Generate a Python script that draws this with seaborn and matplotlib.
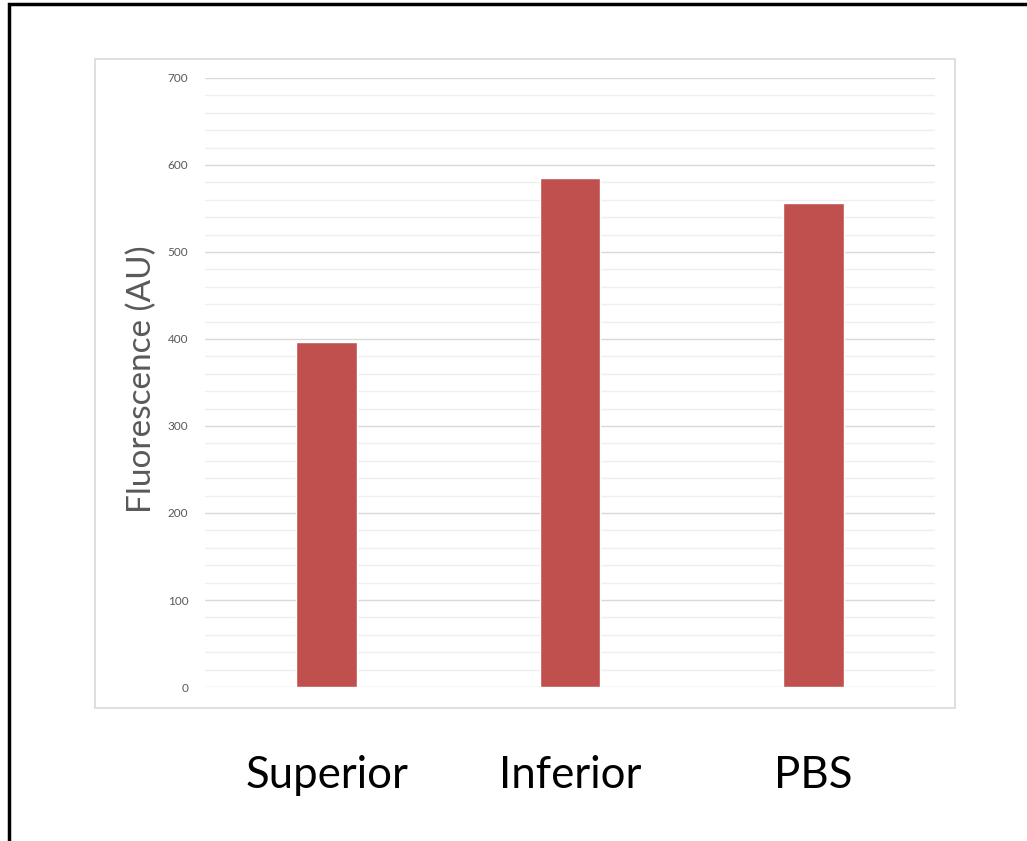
import matplotlib
matplotlib.use("Agg")
import matplotlib.pyplot as plt
from matplotlib.patches import Rectangle
from matplotlib.ticker import MultipleLocator
import pandas as pd
import seaborn as sns

# Data
groups = ["Superior", "Inferior", "PBS"]
fluorescence = [397, 585, 556]

# Axis settings
y_max = 700
y_major = 100
y_minor = 20

bar_color = "#C0504D"
grey_text = "#595959"

df = pd.DataFrame({"Group": groups, "Fluorescence": fluorescence})

sns.set_theme(style="white")
plt.rcParams["font.family"] = ["Lato", "DejaVu Sans"]

fig = plt.figure(figsize=(10.27, 8.41), dpi=100)
ax = fig.add_axes([0.1996, 0.1831, 0.7108, 0.7242])

# Outer black frame (cropped at right and bottom)
fig.patches.append(Rectangle((0.0092, -0.05), 1.1, 1.0458, transform=fig.transFigure,
                             fill=False, edgecolor="black", linewidth=2.5, zorder=0))
# Light grey chart box
fig.patches.append(Rectangle((0.0925, 0.1581), 0.8374, 0.7717, transform=fig.transFigure,
                             fill=False, edgecolor="#D9D9D9", linewidth=1.2, zorder=0))

sns.barplot(data=df, x="Group", y="Fluorescence", color=bar_color, width=0.25,
            saturation=1, ax=ax, zorder=3)

ax.set_ylim(0, y_max)
ax.yaxis.set_major_locator(MultipleLocator(y_major))
ax.yaxis.set_minor_locator(MultipleLocator(y_minor))
ax.grid(which="major", axis="y", color="#D9D9D9", linewidth=1.0, zorder=0)
ax.grid(which="minor", axis="y", color="#EFEFEF", linewidth=1.0, zorder=0)
ax.set_axisbelow(True)

for s in ax.spines.values():
    s.set_visible(False)

ax.tick_params(axis="y", which="both", length=0, pad=12, labelsize=8.5, labelcolor=grey_text)
ax.tick_params(axis="x", length=0, pad=49, labelsize=31.5, labelcolor="black")

ax.set_xlabel("")
ax.set_ylabel("Fluorescence (AU)", fontsize=24, color=grey_text)
ax.yaxis.set_label_coords(-0.066, 0.505)

fig.savefig("out.png", dpi=100)
